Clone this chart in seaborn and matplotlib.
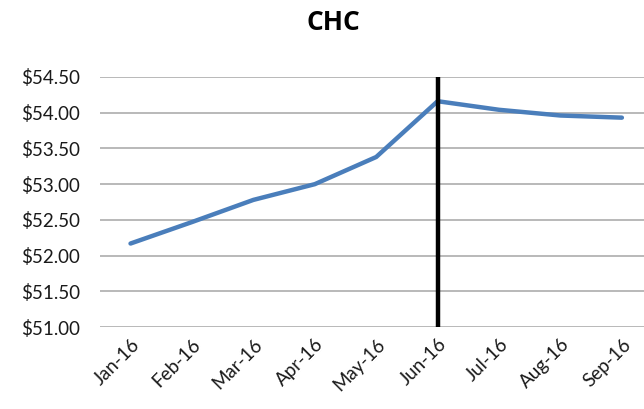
import matplotlib
matplotlib.use("Agg")
import matplotlib.pyplot as plt
import seaborn as sns
import pandas as pd
from matplotlib.ticker import FuncFormatter, MultipleLocator

# data
months = ['Jan-16', 'Feb-16', 'Mar-16', 'Apr-16', 'May-16', 'Jun-16', 'Jul-16', 'Aug-16', 'Sep-16']
prices = [52.17, 52.47, 52.78, 53.00, 53.38, 54.16, 54.04, 53.96, 53.93]
marker_month = 'Jun-16'

df = pd.DataFrame({'Month': months, 'Price': prices})

sns.set_style('white')
plt.rcParams['font.family'] = ['Lato', 'DejaVu Sans']

fig = plt.figure(figsize=(6.44, 4.09), dpi=100)
ax = fig.add_axes([0.155, 0.200, 0.845, 0.612])

sns.lineplot(data=df, x='Month', y='Price', sort=False, color='#4A7EBB', linewidth=3.2, ax=ax, zorder=3)
ax.axvline(months.index(marker_month), color='black', linewidth=3.2, zorder=4)

ax.set_ylim(51.0, 54.5)
ax.set_xlim(-0.5, 8.36)
ax.yaxis.set_major_locator(MultipleLocator(0.5))
ax.yaxis.set_major_formatter(FuncFormatter(lambda v, p: f'${v:.2f}'))
ax.grid(axis='y', color='#A6A6A6', linewidth=1.1)
ax.grid(axis='x', visible=False)
for s in ax.spines.values():
    s.set_visible(False)
ax.tick_params(axis='both', length=0, labelsize=13.5, colors='#1a1a1a')
ax.tick_params(axis='y', pad=14)
ax.tick_params(axis='x', pad=6)
plt.setp(ax.get_xticklabels(), rotation=45, ha='right', rotation_mode='anchor')
ax.set_xlabel('')
ax.set_ylabel('')

fig.text(0.518, 0.945, 'CHC', ha='center', va='center', fontsize=19, color='black',
         fontweight='bold', family=['Open Sans', 'DejaVu Sans'])

fig.savefig('out.png', dpi=100)
